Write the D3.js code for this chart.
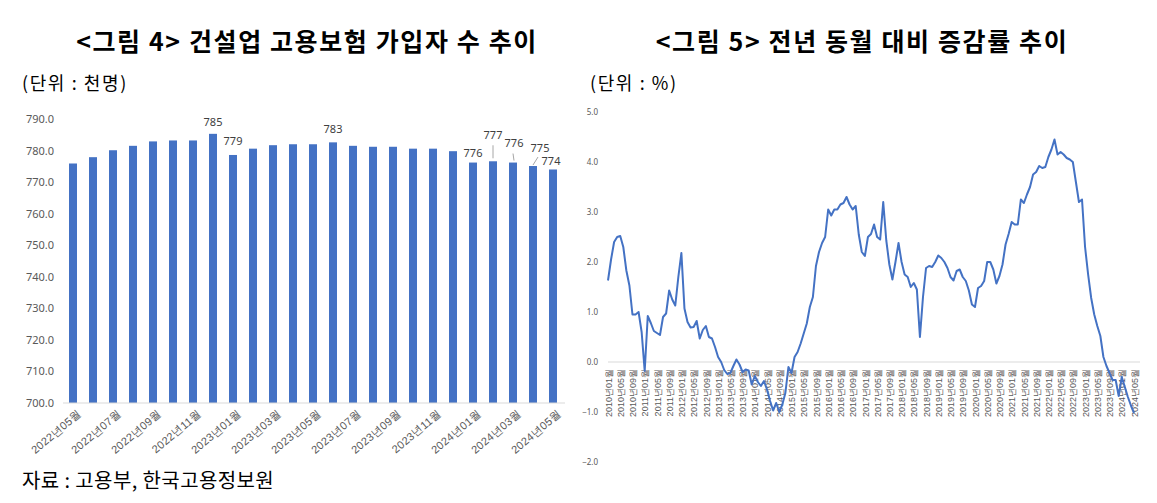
<!DOCTYPE html>
<html>
<head>
<meta charset="utf-8">
<script src="https://cdn.jsdelivr.net/npm/d3@7"></script>
<style>
  html, body { margin: 0; padding: 0; background: #fff; }
  svg { display: block; font-family: "Noto Sans CJK KR", "Noto Sans", sans-serif; }
</style>
</head>
<body>
<svg id="chart" width="1157" height="503"></svg>
<script>
// ---------- data: left chart (thousand persons) ----------
const leftCategories = [
  "2022년05월","2022년06월","2022년07월","2022년08월","2022년09월","2022년10월","2022년11월","2022년12월",
  "2023년01월","2023년02월","2023년03월","2023년04월","2023년05월","2023년06월","2023년07월","2023년08월",
  "2023년09월","2023년10월","2023년11월","2023년12월","2024년01월","2024년02월","2024년03월","2024년04월","2024년05월"
];
const leftValues = [
  775.9, 777.9, 780.1, 781.5, 782.9, 783.2, 783.2, 785.3,
  778.6, 780.6, 781.7, 782.0, 782.0, 782.6, 781.5, 781.2,
  781.2, 780.6, 780.6, 779.8, 776.2, 776.6, 776.2, 775.1, 774.0
];
const leftTickLabels = [
  "2022년05월","2022년07월","2022년09월","2022년11월","2023년01월","2023년03월","2023년05월",
  "2023년07월","2023년09월","2023년11월","2024년01월","2024년03월","2024년05월"
];
const leftYTicks = [700, 710, 720, 730, 740, 750, 760, 770, 780, 790];
const leftLabelled = ["2022년12월","2023년01월","2023년06월","2024년01월","2024년02월","2024년03월","2024년04월","2024년05월"];

// ---------- data: right chart (YoY %) ----------
const rightValues = [
  1.63, 2.05, 2.40, 2.50, 2.52, 2.30, 1.83, 1.53, 0.95, 0.95, 1.00, 0.60,
  -0.18, 0.92, 0.78, 0.62, 0.58, 0.54, 0.90, 0.97, 1.43, 1.25, 1.13, 1.70,
  2.18, 1.07, 0.80, 0.69, 0.70, 0.82, 0.47, 0.64, 0.72, 0.50, 0.47, 0.30,
  0.10, 0.00, -0.16, -0.24, -0.22, -0.08, 0.05, -0.05, -0.20, -0.15, -0.17, -0.45,
  -0.28, -0.40, -0.48, -0.38, -0.55, -0.78, -0.97, -0.82, -1.00, -0.85, -0.62, -0.10,
  -0.22, 0.10, 0.20, 0.37, 0.57, 0.77, 1.10, 1.30, 1.92, 2.20, 2.38, 2.50,
  3.05, 2.93, 3.05, 3.05, 3.15, 3.18, 3.30, 3.15, 3.05, 3.12, 2.55, 2.20,
  2.12, 2.50, 2.56, 2.75, 2.50, 2.45, 3.20, 2.43, 1.95, 1.65, 2.00, 2.38,
  2.00, 1.75, 1.70, 1.50, 1.58, 1.45, 0.50, 1.30, 1.88, 1.92, 1.90, 2.00,
  2.13, 2.08, 2.00, 1.88, 1.70, 1.63, 1.82, 1.85, 1.70, 1.62, 1.43, 1.15,
  1.10, 1.48, 1.52, 1.62, 2.00, 2.00, 1.85, 1.57, 1.72, 1.95, 2.35, 2.56,
  2.80, 2.75, 2.75, 3.25, 3.18, 3.35, 3.50, 3.75, 3.80, 3.92, 3.88, 3.90,
  4.10, 4.25, 4.45, 4.15, 4.20, 4.15, 4.08, 4.05, 4.00, 3.60, 3.20, 3.25,
  2.30, 1.75, 1.28, 0.95, 0.72, 0.52, 0.10, -0.08, -0.22, -0.36, -0.36, -0.68,
  -0.30, -0.50, -0.70, -0.87, -1.02
];
const rightStart = { year: 2010, month: 1 };
const rightYTicks = [-2, -1, 0, 1, 2, 3, 4, 5];
const rightTickEvery = 4;

// month categories for the right chart
const rightCategories = rightValues.map((_, i) => {
  const m0 = rightStart.month - 1 + i;
  const y = rightStart.year + Math.floor(m0 / 12);
  const m = (m0 % 12) + 1;
  return y + "년" + String(m).padStart(2, "0") + "월";
});
const rightTickLabels = rightCategories.filter((_, i) => i % rightTickEvery === 0);

// ---------- drawing ----------
const svg = d3.select("#chart");
const BLUE = "#4472C4";
const GRAY_TXT = "#595959";
const AXIS = "#d9d9d9";

// titles & notes
svg.append("text").attr("x", 307).attr("y", 51).attr("text-anchor", "middle")
  .attr("font-size", 25).attr("font-weight", "bold").attr("letter-spacing", 1.6).attr("fill", "#000")
  .text("<그림 4> 건설업 고용보험 가입자 수 추이");
svg.append("text").attr("x", 862).attr("y", 51).attr("text-anchor", "middle")
  .attr("font-size", 25).attr("font-weight", "bold").attr("letter-spacing", 1.6).attr("fill", "#000")
  .text("<그림 5> 전년 동월 대비 증감률 추이");
svg.append("text").attr("x", 22).attr("y", 90).attr("font-size", 18).attr("letter-spacing", 1.6).attr("fill", "#000").text("(단위 : 천명)");
svg.append("text").attr("x", 590).attr("y", 90).attr("font-size", 18).attr("letter-spacing", 1.6).attr("fill", "#000").text("(단위 : %)");
svg.append("text").attr("x", 22).attr("y", 488).attr("font-size", 20).attr("letter-spacing", 0.4).attr("fill", "#000").text("자료 : 고용부, 한국고용정보원");

// ----- left bar chart -----
const L = { left: 63, right: 563, top: 119, bottom: 403 };
const xL = d3.scaleBand().domain(leftCategories).range([L.left, L.right]).paddingInner(0.6).paddingOuter(0.3);
const yL = d3.scaleLinear().domain([700, 790]).range([L.bottom, L.top]);

const gL = svg.append("g");
const yAxisL = d3.axisLeft(yL).tickValues(leftYTicks).tickFormat(d3.format(".1f")).tickSize(0).tickPadding(0);
gL.append("g").attr("transform", `translate(${L.left - 9},0)`).call(yAxisL)
  .call(g => g.select(".domain").remove())
  .call(g => g.selectAll("text").attr("font-size", 11).attr("fill", GRAY_TXT).attr("font-family", "'Noto Sans', sans-serif"));

gL.selectAll("rect.bar").data(leftValues).join("rect").attr("class", "bar")
  .attr("x", (d, i) => xL(leftCategories[i]))
  .attr("width", xL.bandwidth())
  .attr("y", d => yL(d))
  .attr("height", d => yL(700) - yL(d))
  .attr("fill", BLUE);

gL.append("line").attr("x1", L.left).attr("x2", L.right + 2).attr("y1", yL(700)).attr("y2", yL(700))
  .attr("stroke", AXIS).attr("stroke-width", 1);

const xAxisL = d3.axisBottom(xL).tickValues(leftTickLabels).tickSize(0).tickPadding(0);
gL.append("g").attr("transform", `translate(0,${L.bottom})`).call(xAxisL)
  .call(g => g.select(".domain").remove())
  .call(g => g.selectAll("text")
    .attr("font-size", 11).attr("fill", GRAY_TXT).attr("text-anchor", "end")
    .attr("dy", 0).attr("y", 0).attr("letter-spacing", 0.3)
    .attr("transform", `translate(${xL.bandwidth() / 2 + 5},12) rotate(-40)`));

// data labels
const labelOffsets = {
  "2022년12월": [0, -6, null], "2023년01월": [0, -8, null], "2023년06월": [0, -7, null],
  "2024년01월": [0, -4, null], "2024년02월": [0, -20, [0, -3, 0, -16]],
  "2024년02월x": null,
  "2024년03월": [1, -14, [1, -2, 0, -9]], "2024년04월": [7, -12, [0, -1, 5, -9]],
  "2024년05월": [-2, -2, null]
};
const lbl = gL.append("g");
leftLabelled.forEach(c => {
  const i = leftCategories.indexOf(c);
  const v = leftValues[i];
  const cx = xL(c) + xL.bandwidth() / 2;
  const ty = yL(v);
  const o = labelOffsets[c];
  if (o[2]) {
    lbl.append("line").attr("x1", cx + o[2][0]).attr("y1", ty + o[2][1]).attr("x2", cx + o[2][2]).attr("y2", ty + o[2][3])
      .attr("stroke", "#a6a6a6").attr("stroke-width", 1);
  }
  lbl.append("text").attr("x", cx + o[0]).attr("y", ty + o[1] - 2).attr("text-anchor", "middle")
    .attr("font-size", 11).attr("fill", "#404040").attr("font-family", "'Noto Sans', sans-serif")
    .text(d3.format(".0f")(v));
});

// ----- right line chart -----
const R = { left: 608, right: 1134, top: 112, bottom: 462 };
const xR = d3.scalePoint().domain(rightCategories).range([R.left, R.right]);
const yR = d3.scaleLinear().domain([-2, 5]).range([R.bottom, R.top]);
const gR = svg.append("g");

const yAxisR = d3.axisLeft(yR).tickValues(rightYTicks).tickFormat(d3.format(".1f")).tickSize(0).tickPadding(0);
gR.append("g").attr("transform", `translate(${R.left - 10},0)`).call(yAxisR)
  .call(g => g.select(".domain").remove())
  .call(g => g.selectAll("text").attr("font-size", 8).attr("fill", GRAY_TXT).attr("font-family", "'Noto Sans', sans-serif"));

gR.append("line").attr("x1", R.left).attr("x2", R.right + 6).attr("y1", yR(0)).attr("y2", yR(0))
  .attr("stroke", AXIS).attr("stroke-width", 1);

const xAxisR = d3.axisBottom(xR).tickValues(rightTickLabels).tickSize(0).tickPadding(0);
gR.append("g").attr("transform", `translate(0,${yR(0)})`).call(xAxisR)
  .call(g => g.select(".domain").remove())
  .call(g => g.selectAll("text")
    .attr("font-size", 9).attr("fill", GRAY_TXT).attr("text-anchor", "end")
    .attr("y", 0).attr("dy", "0.35em")
    .attr("transform", "translate(0,7) rotate(-90)"));

const line = d3.line().x((d, i) => xR(rightCategories[i])).y(d => yR(d));
gR.append("path").datum(rightValues).attr("d", line)
  .attr("fill", "none").attr("stroke", BLUE).attr("stroke-width", 2).attr("stroke-linejoin", "round");
</script>
</body>
</html>
